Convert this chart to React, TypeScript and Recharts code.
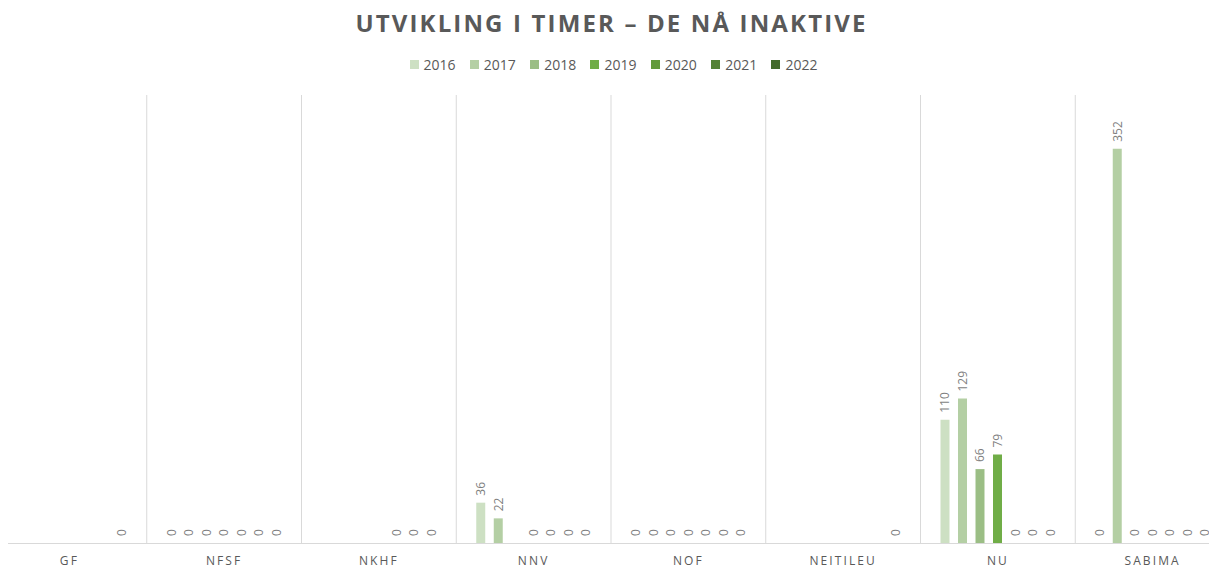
import { BarChart, Bar, XAxis, YAxis, CartesianGrid, LabelList } from "recharts";

const categories = ["GF", "NFSF", "NKHF", "NNV", "NOF", "NEITILEU", "NU", "SABIMA"];
const years = ["2016", "2017", "2018", "2019", "2020", "2021", "2022"];

const v2016 = [null, 0, null, 36, 0, null, 110, 0];
const v2017 = [null, 0, null, 22, 0, null, 129, 352];
const v2018 = [null, 0, null, null, 0, null, 66, 0];
const v2019 = [null, 0, null, 0, 0, null, 79, 0];
const v2020 = [null, 0, 0, 0, 0, null, 0, 0];
const v2021 = [null, 0, 0, 0, 0, null, 0, 0];
const v2022 = [0, 0, 0, 0, 0, 0, 0, 0];

const seriesValues = [v2016, v2017, v2018, v2019, v2020, v2021, v2022];
const colors = ["#cde0c3", "#b4cfa4", "#9bbe85", "#70ad47", "#629a3c", "#548235", "#436a2b"];

const data = categories.map((name, i) => {
  const row: Record<string, string | number | null> = { name };
  years.forEach((y, s) => {
    row[y] = seriesValues[s][i];
  });
  return row;
});

const FONT = "'Open Sans', sans-serif";

const renderLabel = (props: any) => {
  const { x, y, width, height, value } = props;
  if (value === null || value === undefined) return null;
  const cx = Number(x) + Number(width) / 2;
  // zero bars get a tiny min size, so anchor those at the baseline
  const top = value === 0 ? Number(y) + Number(height) : Number(y);
  const cy = top - 7;
  return (
    <text
      x={cx}
      y={cy}
      transform={`rotate(-90 ${cx} ${cy})`}
      textAnchor="start"
      dominantBaseline="central"
      fill="#7f7f7f"
      fontSize={12}
      fontFamily={FONT}
    >
      {value}
    </text>
  );
};

// zero values get a sub-pixel height so their labels are still drawn
const minSize = (value: any) => (value === 0 ? 0.01 : 0);

export default function App() {
  const W = 1238;
  return (
    <div
      style={{
        position: "absolute",
        left: 0,
        top: 0,
        width: 1209,
        height: 568,
        overflow: "hidden",
        background: "#fff",
        fontFamily: FONT,
      }}
    >
      <div
        style={{
          position: "absolute",
          top: 6,
          left: 7,
          width: 1209,
          textAlign: "center",
          fontSize: 24,
          fontWeight: 700,
          letterSpacing: 2.15,
          color: "#595959",
        }}
      >
        UTVIKLING I TIMER – DE NÅ INAKTIVE
      </div>
      <div
        style={{
          position: "absolute",
          top: 55,
          left: 9,
          width: 1209,
          display: "flex",
          justifyContent: "center",
          gap: 14.3,
          fontSize: 14,
          color: "#595959",
        }}
      >
        {years.map((y, i) => (
          <div key={y} style={{ display: "flex", alignItems: "center", gap: 5 }}>
            <span style={{ width: 9, height: 9, background: colors[i], display: "inline-block" }} />
            <span>{y}</span>
          </div>
        ))}
      </div>
      <div style={{ position: "absolute", left: -8, top: 0 }}>
        <BarChart
          width={W}
          height={568}
          data={data}
          margin={{ top: 95, right: 0, bottom: 0, left: 0 }}
          barSize={9}
          barGap={8.5}
        >
          <CartesianGrid
            horizontal={false}
            stroke="#d9d9d9"
            verticalCoordinatesGenerator={({ offset }: any) =>
              categories.map((_, i) => offset.left + (i * offset.width) / categories.length)
            }
          />
          <XAxis
            dataKey="name"
            height={25}
            axisLine={false}
            tickLine={false}
            tick={{ fill: "#595959", fontSize: 12, fontFamily: FONT, letterSpacing: 2.1 }}
            tickMargin={7}
          />
          <YAxis hide domain={[0, 400]} />
          {years.map((y, i) => (
            <Bar key={y} dataKey={y} fill={colors[i]} minPointSize={minSize} isAnimationActive={false}>
              <LabelList dataKey={y} content={renderLabel} />
            </Bar>
          ))}
        </BarChart>
      </div>
      {/* axis line starts a little in from the left edge, as in the original */}
      <div
        style={{
          position: "absolute",
          left: 8,
          top: 543,
          width: 1201,
          height: 1,
          background: "#d9d9d9",
        }}
      />
    </div>
  );
}
